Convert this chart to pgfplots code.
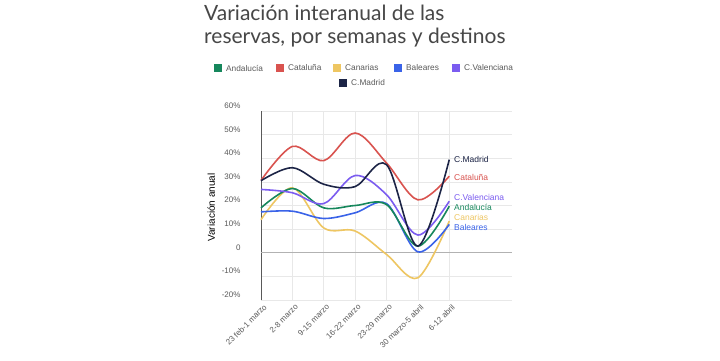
\documentclass[border=0pt]{standalone}
\usepackage{pgfplots}
\pgfplotsset{compat=1.18}
\usepackage{fontspec}
\setmainfont{Liberation Sans}
\newfontfamily\titlefont{Lato}
\definecolor{cAnd}{HTML}{16875C}
\definecolor{cCat}{HTML}{D9534F}
\definecolor{cCan}{HTML}{EEC662}
\definecolor{cBal}{HTML}{3A63E8}
\definecolor{cVal}{HTML}{7B5CF0}
\definecolor{cMad}{HTML}{1C2446}
\definecolor{txt}{HTML}{5A5A5A}
\begin{document}
\begin{tikzpicture}[x=1bp,y=1bp]
\useasboundingbox[fill=white] (0,0) rectangle (720,360);
% title
\node[anchor=north west, align=left, inner sep=0pt, text=black!72, font=\titlefont\fontsize{21bp}{23bp}\selectfont] at (204,355) {Variación interanual de las\\reservas, por semanas y destinos};
% legend
\begin{scope}[font=\fontsize{8.3bp}{9bp}\selectfont, text=txt]
\fill[cAnd] (214,288) rectangle (222,296); \node[anchor=west,inner sep=0pt] at (226,292) {Andalucía};
\fill[cCat] (276,288) rectangle (284,296); \node[anchor=west,inner sep=0pt] at (288,292) {Cataluña};
\fill[cCan] (333,288) rectangle (341,296); \node[anchor=west,inner sep=0pt] at (345,292) {Canarias};
\fill[cBal] (394,288) rectangle (402,296); \node[anchor=west,inner sep=0pt] at (406,292) {Baleares};
\fill[cVal] (452,288) rectangle (460,296); \node[anchor=west,inner sep=0pt] at (464,292) {C.Valenciana};
\fill[cMad] (339,273) rectangle (347,281); \node[anchor=west,inner sep=0pt] at (351,277) {C.Madrid};
\end{scope}
\begin{axis}[
  at={(261bp,60bp)}, anchor=south west,
  scale only axis, width=251bp, height=189bp,
  xmin=0, xmax=8, ymin=-20, ymax=60,
  axis line style={draw=none},
  xtick={0,1,2,3,4,5,6},
  xticklabels={23 feb-1 marzo,2-8 marzo,9-15 marzo,16-22 marzo,23-29 marzo,30 marzo-5 abril,6-12 abril},
  xticklabel style={rotate=45, anchor=north east, font=\fontsize{8bp}{8bp}\selectfont, text=txt, inner sep=1pt, yshift=-3bp},
  ytick={-20,-10,0,10,20,30,40,50,60},
  yticklabels={-20\%,-10\%,0,10\%,20\%,30\%,40\%,50\%,60\%},
  yticklabel style={font=\fontsize{8bp}{8bp}\selectfont, text=txt, anchor=south east, xshift=-17bp, yshift=-1bp},
  major tick length=0pt,
  grid=major, major grid style={draw=black!9, line width=0.6pt},
  ylabel={Variación anual},
  ylabel style={font=\fontsize{8.5bp}{9bp}\selectfont, text=txt},
  every axis y label/.style={at={(ticklabel cs:0.5)}, rotate=90, anchor=south, xshift=-2bp},
  clip=false,
  every axis plot/.append style={smooth, tension=0.55, line width=1.6pt, no marks},
]
\draw[black!65, line width=0.7pt] (axis cs:0,-20) -- (axis cs:0,60);
\draw[black!30, line width=0.8pt] (axis cs:0,0) -- (axis cs:8,0);
\addplot[cCan] coordinates {(0,14) (1,27.5) (2,10.5) (3,9.2) (4,-0.7) (5,-10.6) (6,13.4)};
\addplot[cBal] coordinates {(0,17.3) (1,17.6) (2,14.5) (3,16.9) (4,20.8) (5,0.4) (6,12)};
\addplot[cAnd] coordinates {(0,19) (1,27.2) (2,19) (3,20) (4,20.4) (5,2.8) (6,19.7)};
\addplot[cVal] coordinates {(0,26.8) (1,25.4) (2,20.8) (3,32.7) (4,24.6) (5,7.5) (6,21.8)};
\addplot[cCat] coordinates {(0,30.6) (1,45) (2,39) (3,50.7) (4,38) (5,22.4) (6,32.4)};
\addplot[cMad] coordinates {(0,30.5) (1,36) (2,29) (3,28) (4,37.3) (5,2.8) (6,39.4)};
\begin{scope}[font=\fontsize{8.5bp}{9bp}\selectfont]
\node[anchor=west, text=cMad, inner sep=0pt] at (axis cs:6.15,39.4) {C.Madrid};
\node[anchor=west, text=cCat, inner sep=0pt] at (axis cs:6.15,31.8) {Cataluña};
\node[anchor=west, text=cVal, inner sep=0pt] at (axis cs:6.15,23.3) {C.Valenciana};
\node[anchor=west, text=cAnd, inner sep=0pt] at (axis cs:6.15,19.1) {Andalucía};
\node[anchor=west, text=cCan, inner sep=0pt] at (axis cs:6.15,14.9) {Canarias};
\node[anchor=west, text=cBal, inner sep=0pt] at (axis cs:6.15,10.7) {Baleares};
\end{scope}
\end{axis}
\end{tikzpicture}
\end{document}
